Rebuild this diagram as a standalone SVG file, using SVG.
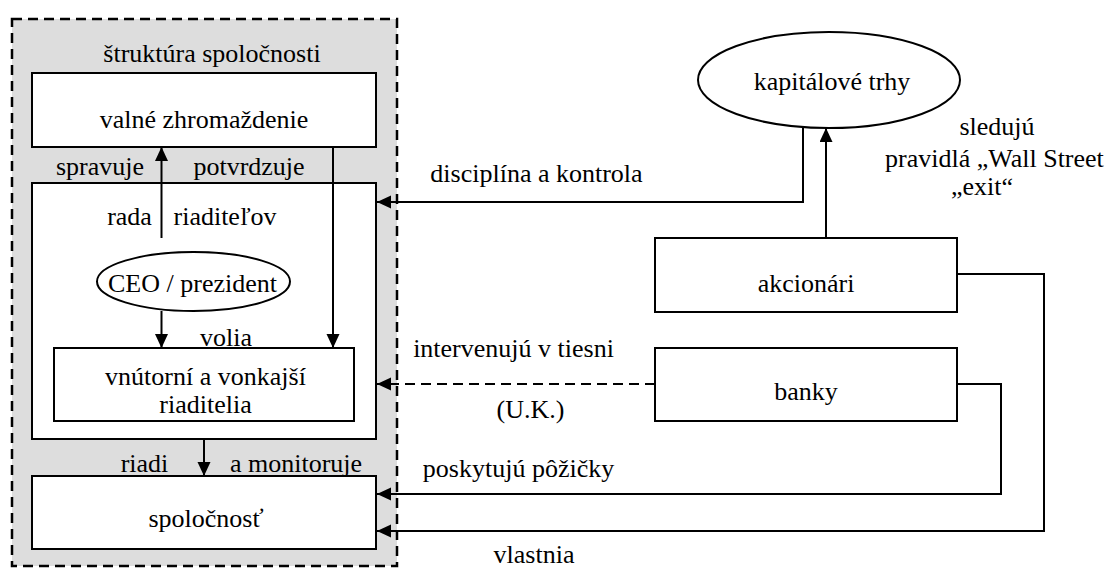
<svg xmlns="http://www.w3.org/2000/svg" width="1113" height="568" viewBox="0 0 1113 568">
<defs>
<marker id="arr" markerUnits="userSpaceOnUse" markerWidth="14" markerHeight="14" refX="14" refY="6.5" orient="auto">
<path d="M0,0 L14,6.5 L0,13 z" fill="#000"/>
</marker>
<style>
text{font-family:"Liberation Serif","Times New Roman",serif;font-size:26px;fill:#000}
.c{text-anchor:middle}
.box{fill:#fff;stroke:#000;stroke-width:2}
.ln{fill:none;stroke:#000;stroke-width:2}
.da{fill:none;stroke:#000;stroke-width:2;stroke-dasharray:10 6}
</style>
</defs>
<g id="container">
<rect x="12" y="19" width="385" height="547" fill="#dddddd" stroke="#000" stroke-width="2.5" stroke-dasharray="10 6"/>
<text class="c" x="212" y="62">štruktúra spoločnosti</text>
</g>
<g id="valne">
<rect class="box" x="32" y="73" width="344" height="74"/>
<text class="c" x="204" y="128">valné zhromaždenie</text>
</g>
<g id="rada">
<rect class="box" x="32" y="183" width="344" height="256"/>
</g>
<g id="ceo">
<ellipse class="box" cx="193.5" cy="281.5" rx="96.5" ry="29.5"/>
<text class="c" x="192.5" y="292">CEO / prezident</text>
</g>
<g id="riaditelia">
<rect class="box" x="54" y="348" width="300" height="73"/>
<text class="c" x="205.5" y="385">vnútorní a vonkajší</text>
<text class="c" x="205.5" y="413">riaditelia</text>
</g>
<g id="spolocnost">
<rect class="box" x="32" y="476" width="344" height="73"/>
<text class="c" x="206" y="527">spoločnosť</text>
</g>
<g id="kapital">
<ellipse class="box" cx="829" cy="80" rx="131" ry="48"/>
<text class="c" x="832" y="90">kapitálové trhy</text>
</g>
<g id="akcionari">
<rect class="box" x="655" y="238" width="302" height="74"/>
<text class="c" x="806" y="292">akcionári</text>
</g>
<g id="banky">
<rect class="box" x="655" y="348" width="302" height="73"/>
<text class="c" x="806" y="400">banky</text>
</g>
<g id="connectors">
<line class="ln" x1="161.5" y1="238" x2="161.5" y2="147" marker-end="url(#arr)"/>
<line class="ln" x1="333" y1="147" x2="333" y2="348" marker-end="url(#arr)"/>
<line class="ln" x1="161.5" y1="311" x2="161.5" y2="348" marker-end="url(#arr)"/>
<line class="ln" x1="204" y1="439" x2="204" y2="476" marker-end="url(#arr)"/>
<polyline class="ln" points="803,127 803,202 377,202" marker-end="url(#arr)"/>
<line class="ln" x1="826" y1="238" x2="826" y2="128" marker-end="url(#arr)"/>
<polyline class="ln" points="957,274 1044,274 1044,531 377,531" marker-end="url(#arr)"/>
<polyline class="ln" points="957,384 1001,384 1001,494 377,494" marker-end="url(#arr)"/>
<line class="da" x1="655" y1="384" x2="377" y2="384" marker-end="url(#arr)"/>
</g>
<g id="labels">
<text class="c" x="100" y="175">spravuje</text>
<text class="c" x="249" y="175">potvrdzuje</text>
<text class="c" x="129.5" y="225">rada</text>
<text class="c" x="225" y="225">riaditeľov</text>
<text class="c" x="226" y="346">volia</text>
<text class="c" x="144.5" y="472">riadi</text>
<text class="c" x="296" y="472">a monitoruje</text>
<text class="c" x="536.5" y="182">disciplína a kontrola</text>
<text class="c" x="997" y="135">sledujú</text>
<text x="885" y="167">pravidlá „Wall Street</text>
<text class="c" x="982" y="195">„exit“</text>
<text class="c" x="513.5" y="357">intervenujú v tiesni</text>
<text class="c" x="530.5" y="418">(U.K.)</text>
<text class="c" x="518.5" y="477">poskytujú pôžičky</text>
<text class="c" x="534" y="563">vlastnia</text>
</g>
</svg>
